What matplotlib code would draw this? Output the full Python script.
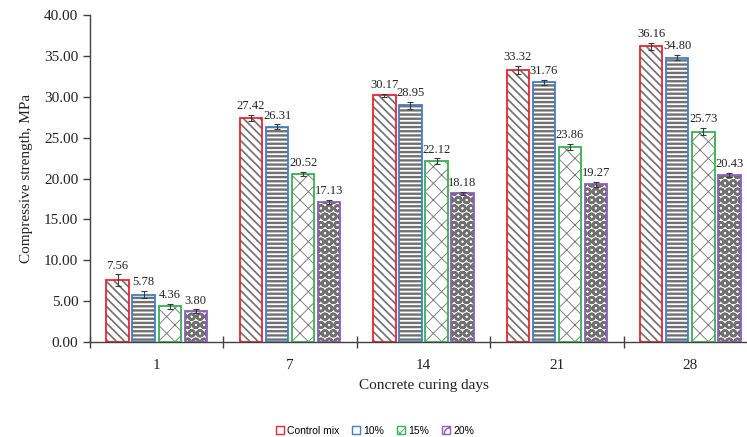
"""
Compressive strength vs curing days, grouped bar chart with hatches.
"""

import matplotlib
matplotlib.use("Agg")
import matplotlib.pyplot as plt
import numpy as np
from matplotlib.patches import Patch
from matplotlib.ticker import FormatStrFormatter, FixedLocator

# data
days = ["1", "7", "14", "21", "28"]
series_names = ["Control mix", "10%", "15%", "20%"]
control_mix = [7.56, 27.42, 30.17, 33.32, 36.16]
pct_10 = [5.78, 26.31, 28.95, 31.76, 34.80]
pct_15 = [4.36, 20.52, 22.12, 23.86, 25.73]
pct_20 = [3.80, 17.13, 18.18, 19.27, 20.43]
err_control = [0.70, 0.35, 0.20, 0.50, 0.40]
err_10 = [0.45, 0.30, 0.40, 0.30, 0.35]
err_15 = [0.30, 0.25, 0.35, 0.40, 0.45]
err_20 = [0.20, 0.30, 0.20, 0.35, 0.30]

values = [control_mix, pct_10, pct_15, pct_20]
errors = [err_control, err_10, err_15, err_20]
edge_colors = ["#e8262e", "#3f7fc6", "#36b24f", "#8b5fc2"]
hatches = ["\\\\\\\\", "----", "xx", "OO"]
hatch_widths = [1.2, 1.7, 0.6, 1.8]

plt.rcParams["font.family"] = ["Liberation Serif", "DejaVu Serif"]

fig = plt.figure(figsize=(7.47, 4.37), dpi=100)
# axes run past the right edge of the figure, as in the source image
ax = fig.add_axes([90 / 747, 95 / 437, 667 / 747, 327 / 437])

x = np.arange(1, len(days) + 1)
width = 0.168
step = 0.195

for i, (vals, errs) in enumerate(zip(values, errors)):
    pos = x + (i - 1.5) * step
    plt.rcParams["hatch.linewidth"] = hatch_widths[i]
    # hatch layer (gray), then coloured outline on top
    ax.bar(pos, vals, width, color="white", edgecolor="#707070",
           hatch=hatches[i], linewidth=0, zorder=2)
    ax.bar(pos, vals, width, fill=False, edgecolor=edge_colors[i],
           linewidth=1.3, zorder=3)
    ax.errorbar(pos, vals, yerr=errs, fmt="none", ecolor="#3a3a3a",
                elinewidth=0.8, capsize=2.5, capthick=0.8, zorder=4)
    for p, v, e in zip(pos, vals, errs):
        ax.annotate(f"{v:.2f}", (p, v + e), xytext=(0, 2),
                    textcoords="offset points", ha="center", va="bottom",
                    fontsize=9, color="#222222")

ax.set_xlim(0.5, len(days) + 0.5)
ax.set_ylim(0, 40)
ax.set_yticks(np.arange(0, 41, 5))
ax.yaxis.set_major_formatter(FormatStrFormatter("%.2f"))

ax.set_xticks(x)
ax.set_xticklabels(days)
ax.xaxis.set_minor_locator(FixedLocator(np.arange(0.5, len(days) + 1, 1)))
ax.tick_params(axis="x", which="major", length=0, pad=12, labelsize=11,
               colors="#222222")
ax.tick_params(axis="x", which="minor", direction="inout", length=8,
               width=1, color="#404040")
ax.tick_params(axis="y", direction="out", length=5, width=1,
               color="#404040", labelsize=11, labelcolor="#222222")

for side in ["top", "right"]:
    ax.spines[side].set_visible(False)
for side in ["left", "bottom"]:
    ax.spines[side].set_color("#404040")
    ax.spines[side].set_linewidth(1.0)

ax.set_xlabel("Concrete curing days", fontsize=11, color="#222222", labelpad=5)
ax.set_ylabel("Compressive strength, MPa", fontsize=11, color="#222222",
              labelpad=8)

plt.rcParams["hatch.linewidth"] = 0.6
handles = [Patch(facecolor="white", edgecolor=c, hatch=h[:1], linewidth=1)
           for c, h in zip(edge_colors, hatches)]
fig.legend(handles, series_names, loc="center", bbox_to_anchor=(0.502, 6 / 437),
           ncol=4, frameon=False, handlelength=0.8,
           handleheight=0.8, handletextpad=0.3, columnspacing=1.2,
           prop={"family": ["Liberation Sans", "DejaVu Sans"], "size": 7.5})

fig.savefig("out.png", dpi=100)
